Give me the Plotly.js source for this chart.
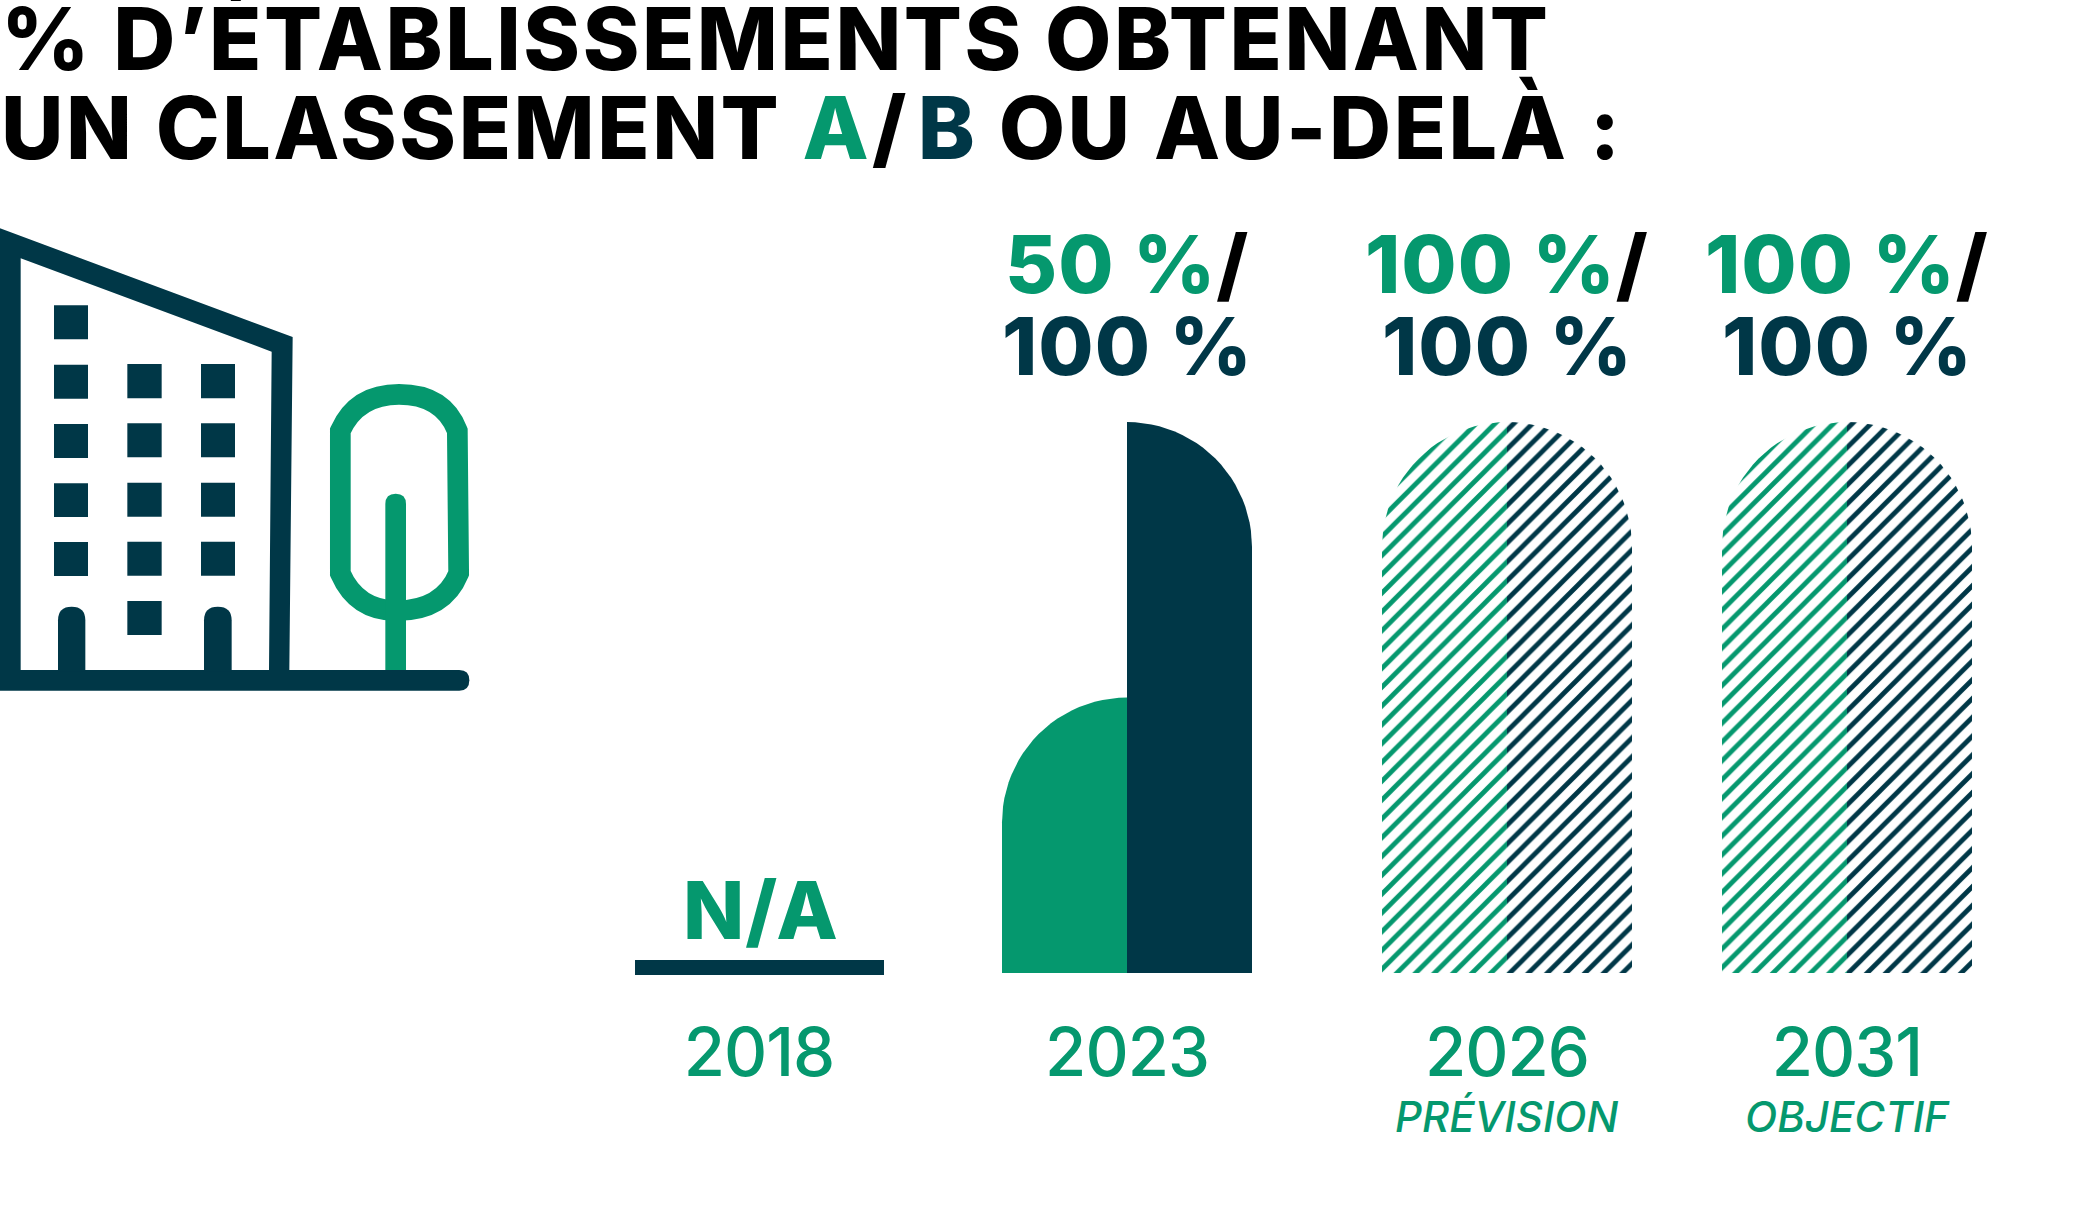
<!DOCTYPE html>
<html><head><meta charset="utf-8">
<script src="https://cdn.plot.ly/plotly-3.0.0.min.js"></script>
<style>html,body{margin:0;padding:0;background:#fff}#c{width:2083px;height:1209px}
.annotation-text[style*="font-size: 86px"]{letter-spacing:2.5px}
.annotation-text[style*="font-size: 80px"]{letter-spacing:1px}
.xtick text{letter-spacing:-1px}
</style></head>
<body><div id="c"></div>
<script>
const years = ['2018','2023','2026','2031'];
const notes = ['','','PRÉVISION','OBJECTIF'];
const centers = [759,1127,1507,1847];
const valuesA = [null,50,100,100];
const valuesB = [null,100,100,100];
const labelsA = ['N/A','50 %','100 %','100 %'];
const labelsB = ['','100 %','100 %','100 %'];
const forecast = [false,false,true,true];

const GREEN='#05986E', DARK='#003747';
const W=2083,H=1209,BASE=973,PX100=551;
const halfW=125, R=125;
const yMax=BASE/PX100*100;
const U=100/PX100;
const px=x=>x/W, py=y=>(BASE-y)/BASE;
const FONT='Inter, sans-serif';

function halfBar(c,v,side){
  const xs=[c],ys=[0];
  const outer=c+side*halfW;
  xs.push(c);ys.push(v);
  for(let i=1;i<=24;i++){
    const a=i/24*Math.PI/2;
    xs.push(outer-side*R+side*R*Math.sin(a));
    ys.push(v-R*U+R*U*Math.cos(a));
  }
  xs.push(outer);ys.push(0);xs.push(c);ys.push(0);
  return {x:xs,y:ys};
}
const traces=[];
years.forEach((yr,i)=>{
  if(valuesA[i]==null) return;
  [[valuesA[i],-1,GREEN,'A'],[valuesB[i],1,DARK,'B']].forEach(([v,side,col,nm])=>{
    const p=halfBar(centers[i],v,side);
    const t={type:'scatter',mode:'lines',x:p.x,y:p.y,fill:'toself',name:nm+' '+yr,
      line:{width:0,color:col},hoverinfo:'skip',showlegend:false};
    if(forecast[i]){
      t.fillcolor='rgba(0,0,0,0)';
      t.fillpattern={shape:'/',fgcolor:col,bgcolor:'#fff',fillmode:'replace',size:13.3,solidity:0.36};
    } else t.fillcolor=col;
    traces.push(t);
  });
});

const shapes=[];
function P(path,fill,line){
  shapes.push({type:'path',xref:'paper',yref:'paper',path:path,fillcolor:fill||'rgba(0,0,0,0)',
    line:line||{width:0},layer:'above'});
}
const zx=v=>px(v/3), zy=v=>py(200+v/3);
function z(cmds){
  return cmds.map(c=>{
    if(c[0]==='Z')return 'Z';
    let s=c[0];
    for(let k=1;k<c.length;k+=2) s+=' '+zx(c[k])+','+zy(c[k+1]);
    return s;
  }).join(' ');
}
function rect(x0,y0,x1,y1,col){P(z([['M',x0,y0],['L',x1,y0],['L',x1,y1],['L',x0,y1],['Z']]),col);}
// tree
P(z([['M',1021,692],['Q',1070,583,1197,583],['Q',1330,583,1372,692],['L',1376,1120],['Q',1330,1232,1190,1232],['Q',1070,1232,1021,1120],['Z']]),null,{width:20.7,color:GREEN});
P(z([['M',1156,1415],['L',1156,912],['Q',1156,881,1187,881],['Q',1218,881,1218,912],['L',1218,1415],['Z']]),GREEN);
// building outline
P(z([['M',0,85],['L',878,411],['L',868,1410],['L',807,1410],['L',815,455],['L',62,175],['L',62,1410],['L',0,1410],['Z']]),DARK);
// ground
P(z([['M',0,1410],['L',1378,1410],['Q',1408,1410,1408,1441],['Q',1408,1472,1378,1472],['L',0,1472],['Z']]),DARK);
// windows
[[316,418],[494,596],[672,774],[850,951],[1026,1128]].forEach(r=>rect(162,r[0],264,r[1],DARK));
[[492,595],[670,772],[848,950],[1025,1127]].forEach(r=>{rect(382,r[0],485,r[1],DARK);rect(603,r[0],705,r[1],DARK);});
rect(382,1203,485,1305,DARK);
// doors
[[174,256],[612,695]].forEach(d=>{const m=(d[0]+d[1])/2;
  P(z([['M',d[0],1415],['L',d[0],1261],['Q',d[0],1220,m,1220],['Q',d[1],1220,d[1],1261],['L',d[1],1415],['Z']]),DARK);});
// N/A baseline for 2018
shapes.push({type:'rect',xref:'paper',yref:'paper',x0:px(635),x1:px(884),y0:py(975),y1:py(960),fillcolor:DARK,line:{width:0}});

const ann=[];
const d=0.24;
function TB(text,x,base,size,anchor,weight,style,color){
  ann.push({text:text,xref:'paper',yref:'paper',x:px(x),y:py(base+size*d),xanchor:anchor,yanchor:'bottom',
    showarrow:false,borderpad:0,align:anchor,
    font:{family:FONT,size:size,weight:weight,style:style||'normal',color:color||'#000'}});
}
const c=s=>`<span style="color:${s}">`;
TB("% D’ÉTABLISSEMENTS OBTENANT",0,71,86,'left',800);
TB(`UN CLASSEMENT ${c(GREEN)}A</span>/\u200A${c(DARK)}B</span> OU AU-DELÀ :`,0,160,86,'left',800);
years.forEach((yr,i)=>{
  if(i===0){TB(labelsA[0],centers[0]+2,940,80,'center',800,'normal',GREEN);return;}
  TB(`${c(GREEN)}${labelsA[i]}</span>/`,centers[i],294,80,'center',800,'normal','#000');
  TB(labelsB[i],centers[i],376,80,'center',800,'normal',DARK);
  if(notes[i]) TB(notes[i],centers[i],1133,42,'center',500,'italic',GREEN);
});

Plotly.newPlot('c',traces,{
  width:W,height:H,margin:{l:0,r:0,t:0,b:H-BASE,pad:0},
  paper_bgcolor:'#fff',plot_bgcolor:'#fff',showlegend:false,
  xaxis:{range:[0,W],tickmode:'array',tickvals:centers,ticktext:years,showgrid:false,zeroline:false,showline:false,
    ticks:'outside',ticklen:22,tickcolor:'rgba(0,0,0,0)',tickfont:{family:FONT,size:67,weight:500,color:GREEN}},
  yaxis:{range:[0,yMax],visible:false,showgrid:false,zeroline:false},
  shapes:shapes,annotations:ann
},{displayModeBar:false,staticPlot:true});
</script></body></html>
